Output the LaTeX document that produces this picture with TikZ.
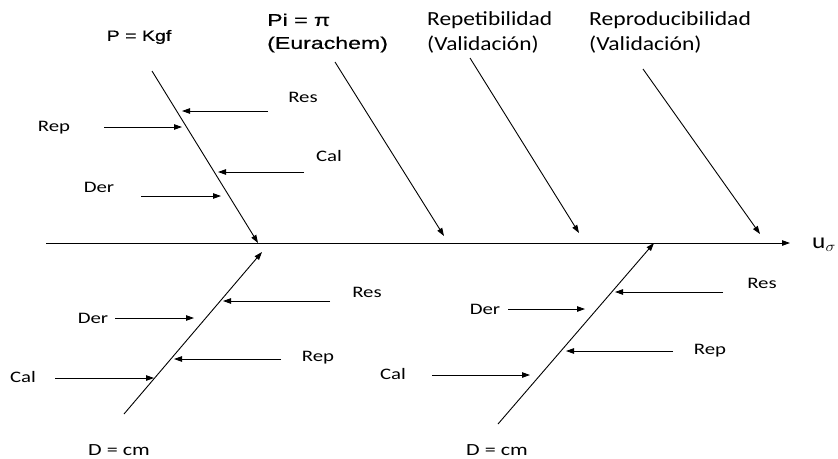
\documentclass[tikz,border=0pt]{standalone}
\usepackage{fontspec}
\usetikzlibrary{arrows.meta}
\newfontfamily\calfont{Carlito}
\newfontfamily\arfont[FakeBold=0.5]{Liberation Sans}
\newcommand\wx[2]{\scalebox{#1}[1]{#2}}
\begin{document}
\begin{tikzpicture}[x=1pt,y=-1pt,
  ln/.style={line width=0.9pt, -{Triangle[length=8pt,width=5.5pt]}},
  lab/.style={inner sep=0pt, font=\calfont\fontsize{16}{16}\selectfont},
  head/.style={inner sep=0pt, anchor=west, align=left, font=\calfont\fontsize{20}{25}\selectfont},
  ahead/.style={inner sep=0pt, anchor=west, align=left, font=\arfont\fontsize{17}{23}\selectfont}]
\useasboundingbox (0,0) rectangle (838,458);
\fill[white] (0,0) rectangle (838,458);

% main axis
\coordinate (m0) at (46,243);
\coordinate (m1) at (790,243);
\draw[ln] (m0) -- (m1);
\node[inner sep=0pt, anchor=west, font=\calfont\fontsize{22}{22}\selectfont] (u) at (812,245) {\wx{1.15}{u$_{\sigma}$}};

% top branch P
\node[inner sep=0pt, font=\arfont\fontsize{15}{15}\selectfont] (P) at (139,37) {\wx{1.3}{P = Kgf}};
\coordinate (p0) at (152,71);
\coordinate (p1) at (258,243);
\draw[ln] (p0) -- (p1);
\coordinate (pr0) at (268,111); \coordinate (pr1) at (182,111);
\draw[ln] (pr0) -- (pr1);
\node[lab] (pres) at (303,97) {\wx{1.3}{Res}};
\coordinate (pp0) at (104,127); \coordinate (pp1) at (182,127);
\draw[ln] (pp0) -- (pp1);
\node[lab] (prep) at (54,128) {\wx{1.3}{Rep}};
\coordinate (pc0) at (304,172); \coordinate (pc1) at (218,172);
\draw[ln] (pc0) -- (pc1);
\node[lab] (pcal) at (329,156) {\wx{1.3}{Cal}};
\coordinate (pd0) at (141,196); \coordinate (pd1) at (221,196);
\draw[ln] (pd0) -- (pd1);
\node[lab] (pder) at (99,187) {\wx{1.3}{Der}};

% top branch Pi
\node[ahead] (Pi) at (267,33) {\wx{1.36}{Pi = π}\\\wx{1.36}{(Eurachem)}};
\coordinate (q0) at (335,62);
\coordinate (q1) at (444,236);
\draw[ln] (q0) -- (q1);

% Repetibilidad
\node[head] (rep) at (427,32) {\wx{1.17}{Repetibilidad}\\\wx{1.17}{(Validación)}};
\coordinate (r0) at (470,58);
\coordinate (r1) at (579,233);
\draw[ln] (r0) -- (r1);

% Reproducibilidad
\node[head] (repro) at (589,32) {\wx{1.18}{Reproducibilidad}\\\wx{1.18}{(Validación)}};
\coordinate (s0) at (643,69);
\coordinate (s1) at (760,234);
\draw[ln] (s0) -- (s1);

% bottom-left branch D
\coordinate (d0) at (124,414);
\coordinate (d1) at (262,252);
\draw[ln] (d0) -- (d1);
\node[lab, font=\calfont\fontsize{17}{17}\selectfont] (D1) at (119,450) {\wx{1.3}{D = cm}};
\coordinate (dr0) at (330,301); \coordinate (dr1) at (223,301);
\draw[ln] (dr0) -- (dr1);
\node[lab] (dres) at (367,292) {\wx{1.3}{Res}};
\coordinate (dd0) at (115,318); \coordinate (dd1) at (194,318);
\draw[ln] (dd0) -- (dd1);
\node[lab] (dder) at (93,318) {\wx{1.3}{Der}};
\coordinate (dp0) at (281,359); \coordinate (dp1) at (174,359);
\draw[ln] (dp0) -- (dp1);
\node[lab] (drep) at (318,358) {\wx{1.3}{Rep}};
\coordinate (dc0) at (55,378); \coordinate (dc1) at (154,378);
\draw[ln] (dc0) -- (dc1);
\node[lab] (dcal) at (23,377) {\wx{1.3}{Cal}};

% bottom-right branch D
\coordinate (e0) at (498,424);
\coordinate (e1) at (654,243);
\draw[ln] (e0) -- (e1);
\node[lab, font=\calfont\fontsize{17}{17}\selectfont] (D2) at (497,450) {\wx{1.3}{D = cm}};
\coordinate (er0) at (723,292); \coordinate (er1) at (615,292);
\draw[ln] (er0) -- (er1);
\node[lab] (eres) at (762,283) {\wx{1.3}{Res}};
\coordinate (ed0) at (508,309); \coordinate (ed1) at (585,309);
\draw[ln] (ed0) -- (ed1);
\node[lab] (eder) at (485,309) {\wx{1.3}{Der}};
\coordinate (ep0) at (673,351); \coordinate (ep1) at (566,351);
\draw[ln] (ep0) -- (ep1);
\node[lab] (erep) at (710,351) {\wx{1.3}{Rep}};
\coordinate (ec0) at (432,375); \coordinate (ec1) at (530,375);
\draw[ln] (ec0) -- (ec1);
\node[lab] (ecal) at (393,374) {\wx{1.3}{Cal}};
\end{tikzpicture}
\end{document}
